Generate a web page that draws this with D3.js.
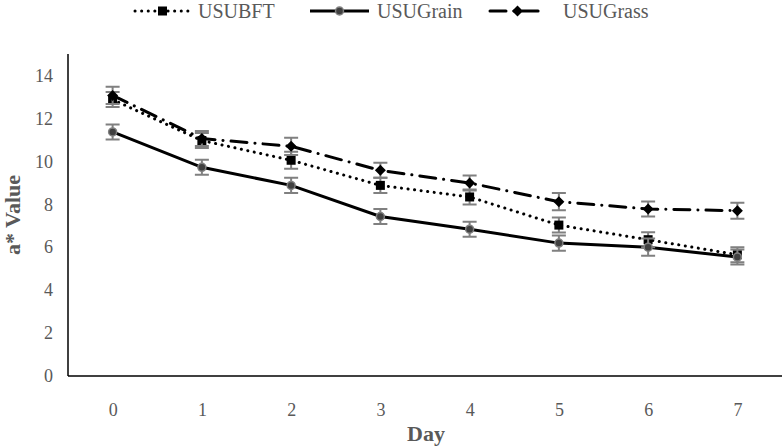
<!DOCTYPE html>
<html>
<head>
<meta charset="utf-8">
<script src="https://cdn.jsdelivr.net/npm/d3@7"></script>
<style>
  html, body { margin: 0; padding: 0; background: #fff; }
  svg { display: block; }
  svg text { font-family: "Liberation Serif", Tinos, "Times New Roman", Times, "DejaVu Serif", serif; }
</style>
</head>
<body>
<svg id="chart" width="784" height="447"></svg>
<script>
const days = ["0", "1", "2", "3", "4", "5", "6", "7"];
const usubft = [12.88, 10.97, 10.05, 8.88, 8.34, 7.03, 6.35, 5.65];
const usugrain = [11.37, 9.72, 8.88, 7.43, 6.84, 6.19, 6.0, 5.54];
const usugrass = [13.07, 11.06, 10.7, 9.58, 8.99, 8.12, 7.78, 7.70];
const errBft = [0.35, 0.35, 0.4, 0.35, 0.35, 0.35, 0.35, 0.35];
const errGrain = [0.35, 0.35, 0.35, 0.35, 0.35, 0.35, 0.4, 0.35];
const errGrass = [0.4, 0.35, 0.4, 0.35, 0.35, 0.4, 0.35, 0.37];
const yTicks = [0, 2, 4, 6, 8, 10, 12, 14];
const seriesNames = ["USUBFT", "USUGrain", "USUGrass"];

const series = [
  { name: seriesNames[0], values: usubft, err: errBft, dash: "0.1,6.5", cap: "round", marker: "square" },
  { name: seriesNames[1], values: usugrain, err: errGrain, dash: null, cap: "butt", marker: "circle" },
  { name: seriesNames[2], values: usugrass, err: errGrass, dash: "16,8,0.1,8", cap: "round", marker: "diamond" }
];

const svg = d3.select("#chart");
const x = d3.scalePoint().domain(days).range([68, 782]).padding(0.5);
const y = d3.scaleLinear().domain([0, 15]).range([376, 54]);
const serif = '"Liberation Serif", Tinos, "Times New Roman", Times, "DejaVu Serif", serif';
const gray = "#595959";

// axes
const yAxis = svg.append("g").attr("transform", "translate(68,0)")
  .call(d3.axisLeft(y).tickValues(yTicks).tickSize(0).tickPadding(15).tickFormat(d3.format("d")));
yAxis.attr("font-family", null);
yAxis.select(".domain").attr("stroke", "#000").attr("stroke-width", 1.5).attr("d", `M0,${y(15)}V${y(0)}`);
yAxis.selectAll("text").style("font-family", serif).attr("font-size", 18).attr("fill", gray);

const xAxis = svg.append("g").attr("transform", `translate(0,${y(0)})`)
  .call(d3.axisBottom(x).tickSize(0).tickPadding(27));
xAxis.attr("font-family", null);
xAxis.select(".domain").attr("stroke", "#000").attr("stroke-width", 1.5).attr("d", "M68,0H782");
xAxis.selectAll("text").style("font-family", serif).attr("font-size", 18).attr("fill", gray);

// axis titles
svg.append("text").attr("x", 426).attr("y", 441).attr("text-anchor", "middle")
  .style("font-family", serif).attr("font-size", 22).attr("font-weight", "bold").attr("fill", gray).text("Day");
svg.append("text").attr("transform", "translate(20,215) rotate(-90)").attr("text-anchor", "middle")
  .style("font-family", serif).attr("font-size", 22).attr("font-weight", "bold").attr("fill", gray).text("a* Value");

function drawMarker(g, type, cx, cy) {
  if (type === "square") {
    g.append("rect").attr("x", cx - 4.5).attr("y", cy - 4.5).attr("width", 9).attr("height", 9).attr("fill", "#000");
  } else if (type === "circle") {
    g.append("circle").attr("cx", cx).attr("cy", cy).attr("r", 4).attr("fill", "#404040").attr("stroke", "#808080").attr("stroke-width", 1.5);
  } else {
    g.append("path").attr("d", `M${cx},${cy - 5.5}L${cx + 5.5},${cy}L${cx},${cy + 5.5}L${cx - 5.5},${cy}Z`).attr("fill", "#000");
  }
}

const line = d3.line().x((d, i) => x(days[i])).y(d => y(d));

series.forEach(s => {
  const g = svg.append("g");
  g.append("path").attr("d", line(s.values)).attr("fill", "none").attr("stroke", "#000")
    .attr("stroke-width", 3).attr("stroke-dasharray", s.dash).attr("stroke-linecap", s.cap);
});

series.forEach(s => {
  const g = svg.append("g");
  s.values.forEach((v, i) => {
    const cx = x(days[i]);
    const top = y(v + s.err[i]), bot = y(v - s.err[i]);
    g.append("path").attr("d", `M${cx},${top}V${bot}M${cx - 7},${top}H${cx + 7}M${cx - 7},${bot}H${cx + 7}`)
      .attr("stroke", "#808080").attr("stroke-width", 2).attr("fill", "none");
  });
  s.values.forEach((v, i) => drawMarker(g, s.marker, x(days[i]), y(v)));
});

// legend
const legendItems = [
  { s: series[0], x0: 135, x1: 190, tx: 198 },
  { s: series[1], x0: 310, x1: 369, tx: 377 },
  { s: series[2], x0: 490, x1: 545, tx: 563 }
];
legendItems.forEach(li => {
  const g = svg.append("g");
  const ly = 11;
  g.append("path").attr("d", `M${li.x0},${ly}H${li.x1}`).attr("stroke", "#000").attr("stroke-width", 3)
    .attr("stroke-dasharray", li.s.dash).attr("stroke-linecap", li.s.cap);
  drawMarker(g, li.s.marker, (li.x0 + li.x1) / 2, ly);
  g.append("text").attr("x", li.tx).attr("y", 18).style("font-family", serif).attr("font-size", 20)
    .attr("fill", gray).text(li.s.name);
});
</script>
</body>
</html>
